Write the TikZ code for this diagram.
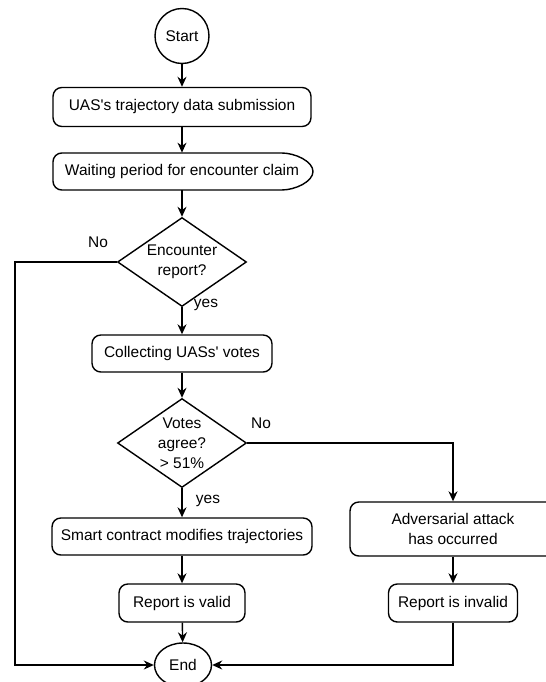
\documentclass[tikz,border=0pt]{standalone}
\usepackage{fontspec}
\setmainfont{Liberation Sans}[Ligatures=TeXOff]
\usetikzlibrary{arrows.meta, shapes.geometric}

\begin{document}
\begin{tikzpicture}[
  x=0.02cm, y=-0.02cm,
  every node/.style={font=\fontsize{8.8}{11.3}\selectfont},
  flowbox/.style={draw, line width=0.8pt, rounded corners=5pt, minimum height=0.76cm, inner sep=0pt, align=center},
  termbox/.style={draw, line width=0.8pt, ellipse, inner sep=0pt},
  decision/.style={draw, line width=0.8pt, diamond, aspect=1.45, minimum width=2.58cm, minimum height=1.78cm, inner sep=0pt, align=center},
  arr/.style={line width=0.8pt, -{Stealth[length=0.2cm, width=0.18cm]}},
  lbl/.style={inner sep=0pt},
]
\useasboundingbox (0,0) rectangle (546,682);

% main column
\node[termbox, minimum width=1.08cm, minimum height=1.1cm] (start) at (182,36) {Start};
\node[flowbox, minimum width=5.16cm, minimum height=0.78cm] (submit) at (182,107) {UAS's trajectory data submission};
\node[inner sep=0pt, minimum width=5.2cm, minimum height=0.74cm] (wait) at (182,171.5) {Waiting period for encounter claim};
\draw[line width=0.8pt, rounded corners=5pt] (273,153) arc[start angle=90, end angle=-90, x radius=0.8cm, y radius=0.37cm] -- (53,190) -- (53,153) -- cycle;
\node[decision] (encounter) at (182,262) {Encounter\\report?};
\node[flowbox, minimum width=3.6cm, minimum height=0.74cm] (collect) at (182,353.5) {Collecting UASs' votes};
\node[decision] (votes) at (182,443) {Votes\\agree?\\> 51\%};
\node[flowbox, minimum width=5.2cm, minimum height=0.74cm] (modify) at (182,536.5) {Smart contract modifies trajectories};
\node[flowbox, minimum width=2.52cm, minimum height=0.76cm] (valid) at (182,603) {Report is valid};
\node[termbox, minimum width=1.14cm, minimum height=0.88cm] (end) at (183,665) {End};

% attack branch
\node[flowbox, minimum width=4.12cm, minimum height=1.08cm] (attack) at (453,529) {Adversarial attack\\has occurred};
\node[flowbox, minimum width=2.58cm, minimum height=0.76cm] (invalid) at (453,603) {Report is invalid};

% labels
\node[lbl] (no1) at (98,242) {No};
\node[lbl] (yes1) at (206,305) {yes};
\node[lbl] (no2) at (261,423) {No};
\node[lbl] (yes2) at (208,501) {yes};

\coordinate (leftturn) at (15,262);

% connectors
\draw[arr] (start) -- (submit);
\draw[arr] (submit) -- (wait);
\draw[arr] (wait) -- (encounter);
\draw[arr] (encounter) -- (collect);
\draw[arr] (encounter.west) -- (leftturn) |- (end.west);
\draw[arr] (collect) -- (votes);
\draw[arr] (votes) -- (modify);
\draw[arr] (votes.east) -| (attack.north);
\draw[arr] (modify) -- (valid);
\draw[arr] (valid) -- (end);
\draw[arr] (attack) -- (invalid);
\draw[arr] (invalid.south) |- (end.east);

\end{tikzpicture}
\end{document}
